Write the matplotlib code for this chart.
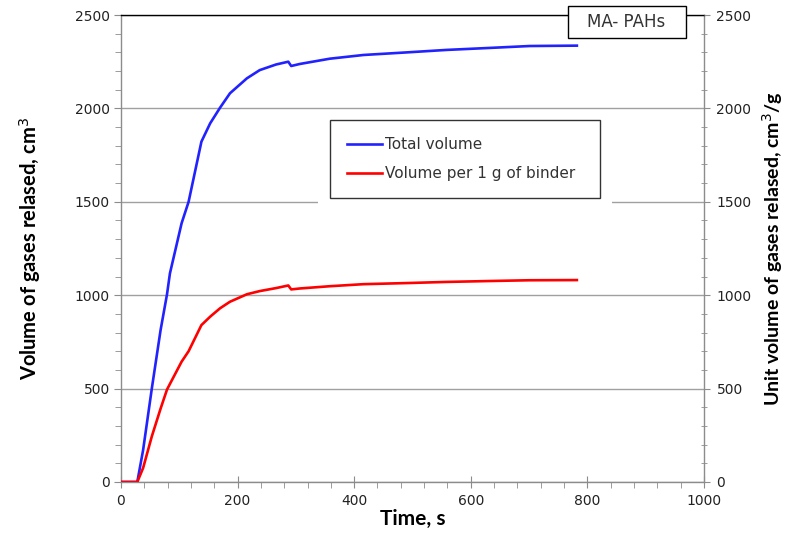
import matplotlib
matplotlib.use("Agg")
import matplotlib.pyplot as plt
from matplotlib.ticker import MultipleLocator
from matplotlib.patches import Rectangle

time_s = [0, 28, 38, 53, 68, 79, 84, 104, 116, 138, 153, 170, 187, 216, 238, 266,
          287, 292, 307, 358, 416, 491, 558, 634, 701, 782]
total_volume = [0, 0, 171, 502, 814, 1005, 1117, 1385, 1500, 1822, 1920, 2004, 2081,
                2161, 2205, 2235, 2250, 2227, 2238, 2266, 2286, 2300, 2313, 2324, 2334, 2336]
volume_per_g = [0, 0, 75, 245, 393, 495, 525, 644, 700, 840, 885, 930, 965,
                1005, 1022, 1038, 1052, 1031, 1036, 1048, 1059, 1065, 1071, 1076, 1080, 1081]

x_ticks = [0, 200, 400, 600, 800, 1000]
y_ticks = [0, 500, 1000, 1500, 2000, 2500]

fig = plt.figure(figsize=(7.87, 5.34), dpi=100)
ax = fig.add_axes([0.1537, 0.0974, 0.8945 - 0.1537, 0.9719 - 0.0974])

grey = "#8c8c8c"

ax.set_xlim(0, 1000)
ax.set_ylim(0, 2500)
ax.set_xticks(x_ticks)
ax.set_yticks(y_ticks)
ax.xaxis.set_minor_locator(MultipleLocator(40))
ax.yaxis.set_minor_locator(MultipleLocator(100))
ax.grid(axis="y", which="major", color="#a0a0a0", lw=1.0, zorder=0)
ax.set_axisbelow(True)

for s in ["left", "right", "bottom"]:
    ax.spines[s].set_color(grey)
    ax.spines[s].set_linewidth(1.0)
ax.spines["top"].set_color("black")
ax.spines["top"].set_linewidth(1.0)

ax.tick_params(axis="y", which="major", direction="out", length=5, color=grey, pad=3,
               labelsize=10, labelcolor="#222222")
ax.tick_params(axis="y", which="minor", direction="out", length=4, color=grey)
ax.tick_params(axis="x", which="major", direction="inout", length=8, color=grey, pad=5,
               labelsize=10, labelcolor="#222222")
ax.tick_params(axis="x", which="minor", direction="out", length=4, color=grey)

ax.plot(time_s, total_volume, color="#2222ff", lw=1.9, label="Total volume", zorder=3)
ax.plot(time_s, volume_per_g, color="#ff0000", lw=1.9, label="Volume per 1 g of binder", zorder=3)

ax2 = ax.twinx()
ax2.set_ylim(0, 2500)
ax2.set_yticks(y_ticks)
ax2.yaxis.set_minor_locator(MultipleLocator(100))
ax2.tick_params(axis="y", which="major", direction="out", length=4, color=grey, pad=5,
                labelsize=10, labelcolor="#222222")
ax2.tick_params(axis="y", which="minor", direction="inout", length=4, color=grey)
for s in ax2.spines.values():
    s.set_visible(False)

label_font = {"family": "Lato", "weight": "bold", "size": 14.5}
ax.set_xlabel("Time, s", fontdict={**label_font, "size": 15})
ax.set_ylabel("Volume of gases relased, cm$^3$", fontdict=label_font)
ax2.set_ylabel("Unit volume of gases relased, cm$^3$/g", fontdict={**label_font, "size": 14})
ax.xaxis.set_label_coords(0.5, -0.058)
ax.yaxis.set_label_coords(-0.134, 0.5)
ax2.yaxis.set_label_coords(1.096, 0.5)

# white area behind legend (interrupts gridline)
ax.add_patch(Rectangle((0.338, 0.585), 0.505, 0.19, transform=ax.transAxes,
                       facecolor="white", edgecolor="none", zorder=1))

leg = ax.legend(loc="upper left", bbox_to_anchor=(0.3585, 0.61, 0.463, 0.165),
                mode="expand", frameon=True, fancybox=False, handlelength=2.3,
                handletextpad=0.2, borderpad=1.1, labelspacing=0.95, borderaxespad=0,
                prop={"family": "DejaVu Sans", "size": 11})
leg.get_frame().set_edgecolor("black")
leg.get_frame().set_linewidth(1.0)
leg.set_zorder(5)
for t in leg.get_texts():
    t.set_color("#333333")

# MA- PAHs label box
ax.add_patch(Rectangle((0.7667, 0.9507), 0.2023, 0.0683, transform=ax.transAxes,
                       facecolor="white", edgecolor="black", lw=1.0, zorder=6, clip_on=False))
ax.text(0.8662, 0.985, "MA- PAHs", transform=ax.transAxes, ha="center", va="center",
        fontsize=12, family="DejaVu Sans", color="#333333", zorder=7, clip_on=False)

fig.savefig("out.png", dpi=100)
